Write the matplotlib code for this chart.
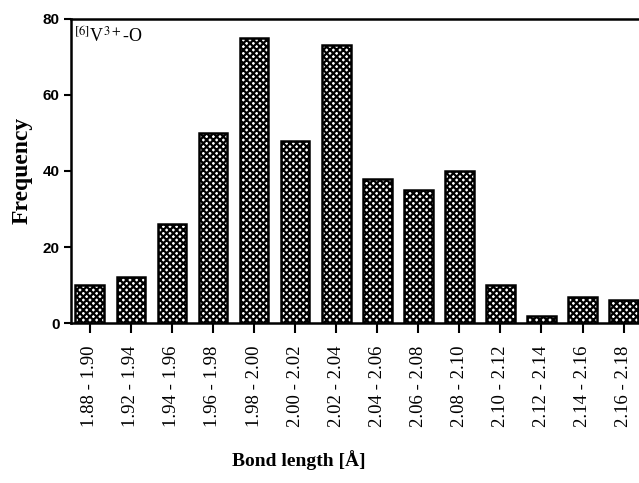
"""Bond length histogram for [6]V3+-O, crosshatched bars."""
import matplotlib
matplotlib.use('Agg')
import matplotlib.pyplot as plt
import numpy as np

bins = ['1.88 - 1.90', '1.92 - 1.94', '1.94 - 1.96', '1.96 - 1.98',
        '1.98 - 2.00', '2.00 - 2.02', '2.02 - 2.04', '2.04 - 2.06',
        '2.06 - 2.08', '2.08 - 2.10', '2.10 - 2.12', '2.12 - 2.14',
        '2.14 - 2.16', '2.16 - 2.18']
freq = [10, 12, 26, 50, 75, 48, 73, 38, 35, 40, 10, 2, 7, 6]
yticks = [0, 20, 40, 60, 80]

plt.rcParams['hatch.linewidth'] = 1.6
plt.rcParams['hatch.color'] = 'black'
plt.rcParams['mathtext.fontset'] = 'stix'

fig = plt.figure(figsize=(6.39, 4.83), dpi=100)
# axes runs past the right edge, like the cropped original
ax = fig.add_axes([0.111, 0.331, 0.897, 0.630])

x = np.arange(len(bins))
ax.bar(x, freq, 0.70, color='white', edgecolor='black', linewidth=1.8,
       hatch='xxxxx', zorder=2)

ax.set_xlim(-0.46, 13.5)
ax.set_ylim(0, 80)
ax.set_yticks(yticks)
ax.set_yticklabels([str(v) for v in yticks], fontfamily='Liberation Sans',
                   fontweight='bold', fontsize=11)
ax.set_xticks(x)
ax.set_xticklabels(bins, rotation=90, fontfamily='Liberation Serif', fontsize=13.5)
ax.tick_params(axis='y', direction='out', length=5, width=1.5, pad=3)
ax.tick_params(axis='x', direction='out', length=7, width=1.5, pad=9)

for s in ['left', 'top', 'bottom']:
    ax.spines[s].set_linewidth(1.8)
ax.spines['right'].set_visible(False)

ax.text(0.005, 0.975, r'$^{[6]}$V$^{3+}$-O', transform=ax.transAxes,
        ha='left', va='top', fontfamily='Liberation Serif', fontsize=13)

fig.text(0.035, 0.647, 'Frequency', rotation=90, ha='center', va='center',
         fontfamily='Liberation Serif', fontweight='bold', fontsize=17)
fig.text(0.468, 0.047, 'Bond length [Å]', ha='center', va='center',
         fontfamily='Liberation Serif', fontweight='bold', fontsize=14)

fig.savefig('out.png', dpi=100)
plt.close(fig)
